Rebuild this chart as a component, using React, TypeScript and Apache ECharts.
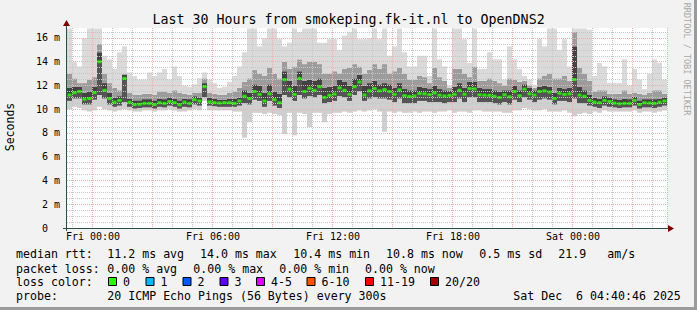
import React, { useEffect, useRef } from 'react';
import * as echarts from 'echarts';

const FONT = "'DejaVu Sans Mono', monospace";

// ---- time grid: 30 hours, 15-minute steps, starting Thu 22:45 ----
const START_MINUTE = 22 * 60 + 45;
const STEP_MINUTES = 15;
const STEPS = 120;

// ---- data (ms) ----
const median = [
  11.2, 11.4, 11.5, 10.85, 10.9, 11.4, 14.0, 11.6, 10.9, 10.6,
  10.75, 12.6, 10.6, 10.4, 10.42, 10.5, 10.5, 10.4, 10.55, 10.5,
  10.65, 10.56, 10.38, 10.6, 10.5, 10.8, 10.7, 11.9, 10.62, 10.56,
  10.53, 10.56, 10.56, 10.5, 10.7, 11.1, 10.9, 11.5, 11.26, 10.7,
  11.3, 10.8, 10.55, 12.5, 11.7, 11.25, 12.6, 11.5, 11.77, 11.6,
  11.9, 11.0, 11.18, 11.28, 11.8, 11.6, 11.26, 11.9, 12.3, 11.2,
  11.55, 11.75, 11.55, 11.66, 11.5, 11.26, 11.63, 11.15, 11.08, 11.12,
  11.33, 11.3, 11.23, 11.38, 11.19, 11.12, 11.17, 11.26, 11.6, 11.27,
  11.75, 11.72, 11.22, 11.19, 11.18, 11.1, 11.0, 11.22, 11.05, 11.5,
  11.15, 11.7, 11.3, 11.2, 11.5, 11.55, 11.45, 10.9, 11.35, 11.25,
  11.3, 12.5, 11.2, 11.1, 10.75, 10.6, 10.55, 10.75, 10.65, 10.52,
  10.46, 10.5, 10.5, 10.75, 10.4, 10.55, 10.53, 10.5, 10.6, 10.7,
];

const smokeMin = [
  10.0, 10.2, 10.1, 9.9, 9.8, 9.9, 10.2, 10.0, 9.9, 9.8,
  9.9, 10.0, 9.9, 9.8, 9.8, 9.9, 9.9, 9.8, 9.9, 9.9,
  10.0, 9.9, 9.8, 9.8, 9.9, 10.0, 9.9, 10.7, 9.9, 9.9,
  9.9, 9.9, 9.9, 9.8, 9.8, 7.6, 8.9, 9.7, 9.7, 9.6,
  9.7, 9.6, 9.5, 7.9, 9.7, 7.8, 9.7, 9.6, 8.5, 9.7,
  9.7, 8.9, 9.6, 9.7, 9.7, 9.8, 9.7, 9.8, 9.9, 9.8,
  9.9, 10.0, 9.8, 8.1, 9.8, 9.7, 9.8, 9.7, 9.7, 9.8,
  9.7, 9.8, 9.8, 9.7, 9.8, 9.8, 9.9, 9.7, 9.8, 9.8,
  9.7, 9.9, 9.9, 9.8, 9.8, 9.8, 9.8, 9.7, 9.7, 9.9,
  9.9, 10.1, 10.0, 9.9, 9.9, 10.0, 9.8, 9.8, 9.8, 9.9,
  9.7, 9.4, 9.6, 9.7, 9.6, 9.8, 9.7, 9.9, 9.8, 9.8,
  9.8, 9.8, 9.8, 9.9, 9.7, 9.8, 9.8, 9.7, 9.8, 9.9,
];

const smokeLo = [
  10.7, 10.9, 10.9, 10.4, 10.4, 10.8, 11.2, 10.9, 10.4, 10.2,
  10.3, 10.6, 10.2, 10.05, 10.1, 10.15, 10.15, 10.05, 10.2, 10.15,
  10.3, 10.2, 10.05, 10.2, 10.15, 10.4, 10.3, 11.0, 10.3, 10.25,
  10.2, 10.2, 10.2, 10.2, 10.3, 10.5, 10.4, 10.8, 10.7, 10.2,
  10.7, 10.3, 10.1, 11.2, 11.0, 10.7, 11.2, 10.9, 11.1, 11.0,
  11.2, 10.5, 10.6, 10.7, 11.1, 11.0, 10.7, 11.2, 11.5, 10.7,
  10.9, 11.0, 10.9, 10.9, 10.8, 10.6, 10.9, 10.5, 10.5, 10.5,
  10.7, 10.7, 10.6, 10.6, 10.6, 10.5, 10.6, 10.6, 10.9, 10.6,
  11.0, 11.0, 10.6, 10.6, 10.6, 10.5, 10.4, 10.6, 10.4, 10.8,
  10.6, 11.0, 10.8, 10.6, 10.8, 10.9, 10.8, 10.4, 10.7, 10.7,
  10.6, 10.9, 10.5, 10.5, 10.3, 10.2, 10.1, 10.3, 10.2, 10.15,
  10.1, 10.15, 10.15, 10.3, 10.05, 10.15, 10.15, 10.1, 10.2, 10.3,
];

const smokeHi = [
  11.8, 11.9, 11.9, 11.4, 11.5, 11.9, 14.8, 12.2, 11.4, 11.0,
  11.1, 12.9, 10.9, 10.75, 10.75, 10.85, 10.85, 10.75, 10.9, 10.85,
  11.0, 10.9, 10.75, 10.9, 10.85, 11.1, 11.0, 12.2, 10.95, 10.9,
  10.8, 10.8, 10.9, 10.9, 11.0, 11.6, 11.4, 12.1, 12.0, 11.4,
  12.1, 11.5, 11.3, 13.2, 12.4, 12.0, 13.2, 12.4, 12.5, 12.4,
  12.6, 11.8, 11.9, 12.0, 12.5, 12.3, 12.0, 12.6, 12.9, 12.0,
  12.2, 12.4, 12.1, 12.2, 12.1, 11.8, 12.2, 11.7, 11.6, 11.6,
  11.9, 11.8, 11.7, 12.0, 11.7, 11.6, 11.55, 11.9, 12.2, 11.8,
  12.3, 12.3, 11.8, 11.7, 11.7, 11.6, 11.5, 11.6, 11.6, 12.0,
  11.6, 12.1, 11.8, 11.6, 11.9, 12.0, 11.9, 11.4, 11.8, 11.7,
  11.8, 15.3, 11.9, 11.6, 11.2, 10.95, 10.9, 11.1, 11.0, 10.85,
  10.8, 10.9, 10.85, 11.05, 10.75, 10.85, 10.85, 10.85, 10.9, 11.0,
];

const smokeP90 = [
  13.0, 12.6, 12.2, 12.2, 12.5, 12.7, 15.5, 13.0, 12.2, 11.8,
  11.6, 13.0, 11.4, 11.2, 11.2, 11.3, 11.3, 11.2, 11.5, 11.5,
  11.4, 11.6, 11.4, 11.3, 11.2, 11.4, 11.4, 12.6, 11.4, 11.3,
  11.2, 11.2, 11.4, 11.5, 11.8, 12.3, 12.6, 13.3, 13.0, 12.8,
  13.5, 13.0, 12.6, 14.0, 13.4, 13.6, 14.2, 13.8, 14.0, 14.0,
  13.8, 13.0, 13.0, 13.2, 13.0, 13.4, 13.5, 13.8, 13.6, 13.0,
  13.3, 13.8, 13.4, 13.8, 13.0, 13.2, 13.5, 13.0, 12.5, 12.5,
  12.8, 12.7, 12.2, 13.5, 12.7, 12.4, 11.8, 13.4, 13.4, 13.0,
  12.7, 13.6, 12.4, 12.4, 12.6, 12.4, 12.2, 12.0, 12.6, 12.5,
  12.3, 12.4, 12.0, 11.8, 12.6, 12.8, 13.0, 12.6, 12.6, 12.8,
  12.4, 16.5, 13.5, 13.0, 12.4, 11.5, 11.6, 11.6, 11.3, 11.3,
  11.3, 11.6, 11.3, 11.4, 11.3, 11.2, 11.4, 11.6, 11.6, 11.3,
];

const smokeMax = [
  16.8, 14.0, 13.6, 16.0, 16.8, 16.8, 16.8, 14.5, 14.2, 13.4,
  14.8, 15.3, 13.1, 12.8, 12.5, 12.5, 13.1, 12.8, 13.1, 13.4,
  12.5, 13.6, 12.8, 12.0, 11.9, 12.1, 12.6, 13.1, 12.5, 12.2,
  11.8, 11.9, 12.3, 12.8, 13.6, 14.8, 16.8, 16.8, 15.3, 16.0,
  16.8, 16.8, 15.9, 15.3, 15.6, 16.8, 16.5, 16.8, 16.8, 16.8,
  15.6, 15.6, 15.9, 15.9, 15.0, 16.2, 16.5, 16.8, 15.9, 15.9,
  16.0, 16.8, 15.9, 16.8, 14.5, 15.3, 16.8, 14.8, 13.6, 13.6,
  14.5, 14.5, 12.8, 16.8, 14.2, 13.6, 12.0, 16.8, 16.8, 15.9,
  13.9, 16.8, 13.4, 13.4, 14.8, 14.2, 14.2, 12.5, 15.3, 14.2,
  13.4, 12.8, 12.5, 12.0, 15.9, 15.3, 16.8, 16.8, 15.0, 15.9,
  13.6, 16.8, 16.8, 16.8, 16.7, 12.8, 13.9, 13.6, 12.2, 12.2,
  12.2, 14.2, 12.0, 13.4, 12.5, 11.7, 13.0, 14.2, 13.9, 12.5,
];

// ---- axes / ticks ----
const Y_MAX = 16.84;
const yMajor = [2, 4, 6, 8, 10, 12, 14, 16];
const yMinor = [0.5, 1, 1.5, 2.5, 3, 3.5, 4.5, 5, 5.5, 6.5, 7, 7.5, 8.5, 9, 9.5,
  10.5, 11, 11.5, 12.5, 13, 13.5, 14.5, 15, 15.5, 16.5];
const xTickIndex = [5, 29, 53, 77, 101];
const xTickLabels = ['Fri 00:00', 'Fri 06:00', 'Fri 12:00', 'Fri 18:00', 'Sat 00:00'];

// ---- texts ----
const titleText = 'Last 30 Hours from smokeping.fk-it.nl to OpenDNS2';
const rttItems = ['median rtt:', '11.2 ms avg', '14.0 ms max', '10.4 ms min', '10.8 ms now', '0.5 ms sd', '21.9', 'am/s'];
const lossItems = ['packet loss:', '0.00 % avg', '0.00 % max', '0.00 % min', '0.00 % now'];
const lossColorLabels = ['0', '1', '2', '3', '4-5', '6-10', '11-19', '20/20'];
const lossColors = ['#26ff00', '#00b8ff', '#0059ff', '#5e00ff', '#dd00ff', '#ff5500', '#ff0000', '#a10000'];
const probeItems = ['probe:', '20 ICMP Echo Pings (56 Bytes) every 300s', 'Sat Dec\u00a0 6 04:40:46 2025'];

// ---- layout (pixels) ----
const GRID = { left: 67, top: 28, width: 600, height: 200 };
const rttX = [16, 107.3, 200, 293.3, 386, 479.3, 558.3, 607.3];
const lossX = [16, 107.3, 193.3, 279.3, 365];
const boxX = [108, 145.5, 182.5, 219.5, 256, 306.5, 365, 430];
const probeX = [16, 107.3, 513.3];
const ROW_Y = [254, 268.5, 282, 296];

const categories = Array.from({ length: STEPS }, (_, i) => {
  const m = (START_MINUTE + i * STEP_MINUTES) % 1440;
  return `${String(Math.floor(m / 60)).padStart(2, '0')}:${String(m % 60).padStart(2, '0')}`;
});

function txt(t: string, x: number, y: number, size: number, extra: any = {}) {
  return {
    type: 'text',
    x,
    y,
    silent: true,
    z: 20,
    ...extra,
    style: {
      text: t,
      fill: extra.fill || '#000',
      font: `${size}px ${FONT}`,
      textAlign: extra.align || 'left',
      align: extra.align || 'left',
      textVerticalAlign: 'middle',
      verticalAlign: 'middle',
    },
  };
}

export default function App() {
  const ref = useRef<HTMLDivElement>(null);

  useEffect(() => {
    if (!ref.current) return;
    const chart = echarts.init(ref.current, undefined, { renderer: 'svg' });

    const lower = [smokeMin, smokeLo, median, smokeHi, smokeP90];
    const upper = [smokeLo, median, smokeHi, smokeP90, smokeMax];
    const bandColors = ['#cfcfcf', '#545454', '#424242', '#9c9c9c', '#dadada'];

    const bandSeries = upper.map((up, k) => ({
      type: 'bar',
      stack: 'smoke',
      xAxisIndex: 0,
      data: up.map((u, i) => Math.max(0, +(u - lower[k][i]).toFixed(3))),
      itemStyle: { color: bandColors[k] },
      silent: true,
      emphasis: { disabled: true },
    }));

    const gridLines = [
      ...yMinor.map((v) => ({ yAxis: v, lineStyle: { color: '#c7c7c7', type: [1, 1], width: 1 } })),
      ...yMajor.map((v) => ({ yAxis: v, lineStyle: { color: '#efafaf', type: [1, 1], width: 1 } })),
    ];

    const graphics: any[] = [];
    graphics.push({ type: 'rect', shape: { x: 694, y: 0, width: 3, height: 310 }, style: { fill: '#9a9a9a' }, z: 19, silent: true });
    graphics.push({ type: 'rect', shape: { x: 0, y: 307, width: 697, height: 3 }, style: { fill: '#9a9a9a' }, z: 19, silent: true });
    // axes
    graphics.push({ type: 'line', shape: { x1: 63, y1: 228.5, x2: 668, y2: 228.5 }, style: { stroke: '#2c4d43', lineWidth: 1 }, z: 20, silent: true });
    graphics.push({ type: 'line', shape: { x1: 66.5, y1: 231, x2: 66.5, y2: 26 }, style: { stroke: '#2c4d43', lineWidth: 1 }, z: 20, silent: true });
    graphics.push({ type: 'polygon', shape: { points: [[668, 225], [674, 228.5], [668, 232]] }, style: { fill: '#7f0000' }, z: 21, silent: true });
    graphics.push({ type: 'polygon', shape: { points: [[63, 26], [66.5, 20], [70, 26]] }, style: { fill: '#7f0000' }, z: 21, silent: true });
    // title & side texts
    graphics.push(txt(titleText, 348.5, 19.5, 13.3, { align: 'center' }));
    graphics.push(txt('Seconds', 10, 127, 11.5, { align: 'center', rotation: Math.PI / 2 }));
    graphics.push(txt('RRDTOOL / TOBI OETIKER', 687, 59, 8.5, { align: 'center', rotation: -Math.PI / 2, fill: '#a8a8a8' }));
    // legend rows
    rttItems.forEach((t, i) => graphics.push(txt(t, rttX[i], ROW_Y[0], 11.6)));
    lossItems.forEach((t, i) => graphics.push(txt(t, lossX[i], ROW_Y[1], 11.6)));
    graphics.push(txt('loss color:', 16, ROW_Y[2], 11.6));
    lossColorLabels.forEach((t, i) => {
      graphics.push({
        type: 'rect',
        shape: { x: boxX[i] + 0.5, y: ROW_Y[2] - 4.5, width: 8, height: 8 },
        style: { fill: lossColors[i], stroke: '#000', lineWidth: 1 },
        z: 20,
        silent: true,
      });
      graphics.push(txt(t, boxX[i] + 15, ROW_Y[2], 11.6));
    });
    probeItems.forEach((t, i) => graphics.push(txt(t, probeX[i], ROW_Y[3], 11.6)));

    const option: any = {
      animation: false,
      backgroundColor: '#f2f2f2',
      grid: {
        ...GRID,
        show: true,
        backgroundColor: '#ffffff',
        borderWidth: 0,
        containLabel: false,
        outerBoundsMode: 'none',
      },
      xAxis: [
        {
          type: 'category',
          data: categories,
          boundaryGap: true,
          z: 3,
          axisLine: { show: false },
          axisTick: { show: false },
          axisLabel: {
            interval: (i: number) => xTickIndex.includes(i),
            formatter: (_v: string, i: number) => {
              const k = xTickIndex.indexOf(i);
              return k >= 0 ? xTickLabels[k] : '';
            },
            fontSize: 10,
            fontFamily: FONT,
            color: '#000',
            margin: 3,
            padding: [0, 3, 0, 0],
          },
          splitLine: {
            show: true,
            interval: (_i: number, v: string) => v.endsWith(':00'),
            lineStyle: { color: '#c7c7c7', type: [1, 1], width: 1 },
          },
        },
        {
          type: 'category',
          data: categories,
          boundaryGap: true,
          position: 'bottom',
          z: 4,
          axisLine: { show: false },
          axisTick: { show: false },
          axisLabel: { show: false },
          splitLine: {
            show: true,
            interval: (_i: number, v: string) => v.endsWith(':00') && parseInt(v, 10) % 3 === 0,
            lineStyle: { color: '#efafaf', type: [1, 1], width: 1 },
          },
        },
      ],
      yAxis: {
        type: 'value',
        min: 0,
        max: Y_MAX,
        interval: 2,
        axisLine: { show: false },
        axisTick: { show: false },
        splitLine: { show: false },
        axisLabel: {
          fontSize: 10,
          fontFamily: FONT,
          color: '#000',
          margin: 7,
          showMaxLabel: false,
          formatter: (v: number) => {
            if (v > 16.001 || Math.abs(v / 2 - Math.round(v / 2)) > 1e-6) return '';
            return v === 0 ? '0\u00a0\u00a0' : `${v} m`;
          },
        },
      },
      series: [
        {
          type: 'bar',
          stack: 'smoke',
          xAxisIndex: 0,
          data: smokeMin,
          barCategoryGap: '0%',
          itemStyle: { color: 'rgba(0,0,0,0)' },
          silent: true,
          emphasis: { disabled: true },
          markLine: {
            silent: true,
            symbol: ['none', 'none'],
            label: { show: false },
            emphasis: { disabled: true },
            animation: false,
            z: 5,
            data: gridLines,
          },
        },
        ...bandSeries,
        {
          type: 'scatter',
          xAxisIndex: 0,
          data: median,
          symbol: 'rect',
          symbolSize: [4, 3],
          itemStyle: { color: '#26ff00' },
          silent: true,
          z: 6,
          emphasis: { disabled: true },
        },
      ],
      graphic: { elements: graphics },
    };

    chart.setOption(option);
    return () => chart.dispose();
  }, []);

  return (
    <div
      ref={ref}
      style={{ position: 'fixed', left: 0, top: 0, width: 697, height: 310 }}
    />
  );
}
